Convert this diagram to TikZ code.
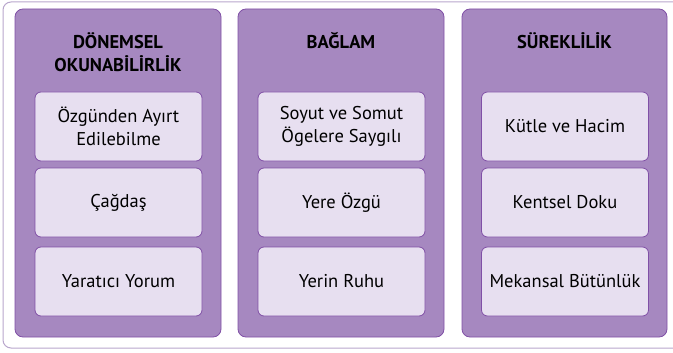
\documentclass[tikz,border=0pt]{standalone}
\usepackage{fontspec}
\setmainfont{PT Sans}
\definecolor{panelfill}{HTML}{A688C0}
\definecolor{panelline}{HTML}{8050A6}
\definecolor{itemfill}{HTML}{E7DFF0}
\definecolor{frameline}{HTML}{B8A6CC}
\begin{document}
\begin{tikzpicture}[x=1pt,y=-1pt,
  panel/.style={draw=panelline,fill=panelfill,line width=0.8pt,rounded corners=8pt},
  item/.style={draw=panelline,fill=itemfill,line width=0.8pt,rounded corners=6pt,
    minimum width=167pt,minimum height=69pt,inner sep=0pt,align=center,
    font=\fontsize{18.5}{23}\selectfont},
  head/.style={font=\fontsize{18.5}{23}\selectfont\bfseries,align=center,inner sep=0pt}]
\useasboundingbox (0,0) rectangle (673,353);
\draw[frameline,line width=1pt,rounded corners=8pt] (3,2) rectangle (690,348);
% panels
\draw[panel] (15,9) rectangle (221,337);
\draw[panel] (238,9) rectangle (444,337);
\draw[panel] (462,9) rectangle (667,337);
% headers
\node[head] (h1) at (118,52) {DÖNEMSEL\\OKUNABİLİRLİK};
\node[head] (h2) at (341,41) {BAĞLAM};
\node[head] (h3) at (564.5,41) {SÜREKLİLİK};
% items
\node[item] (a1) at (118.5,126.5) {Özgünden Ayırt\\Edilebilme};
\node[item] (a2) at (118.5,202.5) {Çağdaş};
\node[item] (a3) at (118.5,281.5) {Yaratıcı Yorum};
\node[item] (b1) at (341.5,126.5) {Soyut ve Somut\\Ögelere Saygılı};
\node[item] (b2) at (341.5,202.5) {Yere Özgü};
\node[item] (b3) at (341.5,281.5) {Yerin Ruhu};
\node[item] (c1) at (565,126.5) {Kütle ve Hacim};
\node[item] (c2) at (565,202.5) {Kentsel Doku};
\node[item] (c3) at (565,281.5) {Mekansal Bütünlük};
\end{tikzpicture}
\end{document}
